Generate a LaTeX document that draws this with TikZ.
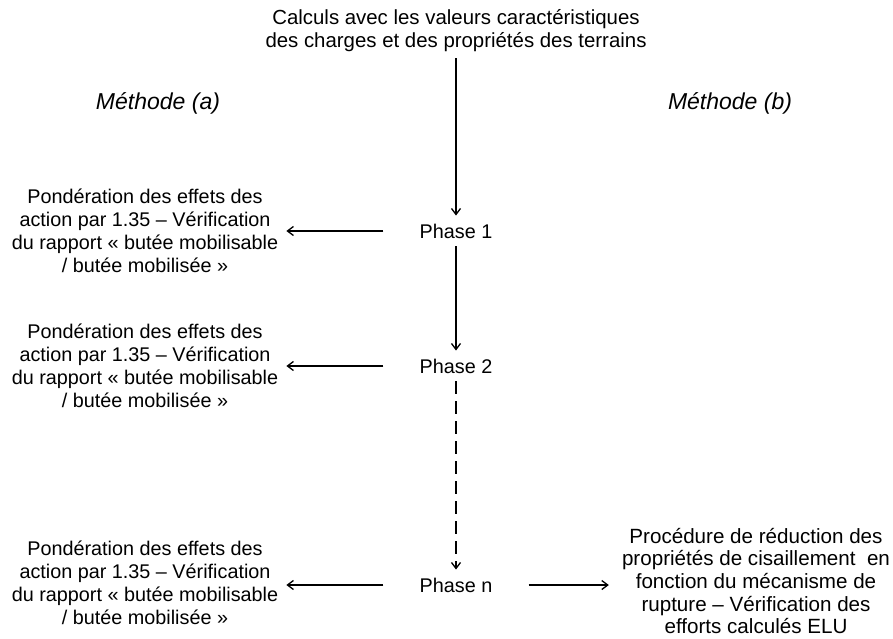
\documentclass[tikz,border=0pt]{standalone}
\usepackage{fontspec}
\setmainfont{Liberation Sans}
\usetikzlibrary{arrows.meta}
\begin{document}
\begin{tikzpicture}[x=1pt, y=-1pt, >={Straight Barb[length=6pt,width=9pt]},
    every node/.style={font=\fontsize{19.8}{23}\selectfont, align=center},
    phase/.style={inner xsep=36pt, inner ysep=8pt},
    bloc/.style={inner xsep=8pt},
    methode/.style={font=\fontsize{23}{27}\selectfont\itshape},
    fleche/.style={->, line width=1.3pt}]
    \useasboundingbox (0,0) rectangle (893,639);

    % Titre
    \node[inner ysep=6pt, font=\fontsize{20.4}{23}\selectfont] (calc) at (456,31) {Calculs avec les valeurs caractéristiques\\des charges et des propriétés des terrains};
    \node[methode] (meta) at (158,103) {Méthode (a)};
    \node[methode] (metb) at (730,103) {Méthode (b)};

    % Phases
    \node[phase] (p1) at (456,231) {Phase 1};
    \node[phase] (p2) at (456,366) {Phase 2};
    \node[phase] (pn) at (456,585) {Phase n};

    % Méthode (a)
    \node[bloc] (a1) at (145,231) {Pondération des effets des\\action par 1.35 -- Vérification\\du rapport « butée mobilisable\\/ butée mobilisée »};
    \node[bloc] (a2) at (145,366) {Pondération des effets des\\action par 1.35 -- Vérification\\du rapport « butée mobilisable\\/ butée mobilisée »};
    \node[bloc] (an) at (145,583) {Pondération des effets des\\action par 1.35 -- Vérification\\du rapport « butée mobilisable\\/ butée mobilisée »};

    % Méthode (b)
    \node[inner xsep=13pt, font=\fontsize{20.6}{22.6}\selectfont] (bn) at (756,581) {Procédure de réduction des\\propriétés de cisaillement \ en\\fonction du mécanisme de\\rupture -- Vérification des\\efforts calculés ELU};

    % Flèches
    \draw[fleche] (calc) -- (p1);
    \draw[fleche] (p1) -- (p2);
    \draw[fleche, dash pattern=on 13pt off 7pt] (p2) -- (pn);
    \draw[fleche] (p1) -- (a1);
    \draw[fleche] (p2) -- (a2);
    \draw[fleche] (pn.west) -- (an.east |- pn.west);
    \draw[fleche] (pn) -- (bn.west |- pn.east);
\end{tikzpicture}
\end{document}
